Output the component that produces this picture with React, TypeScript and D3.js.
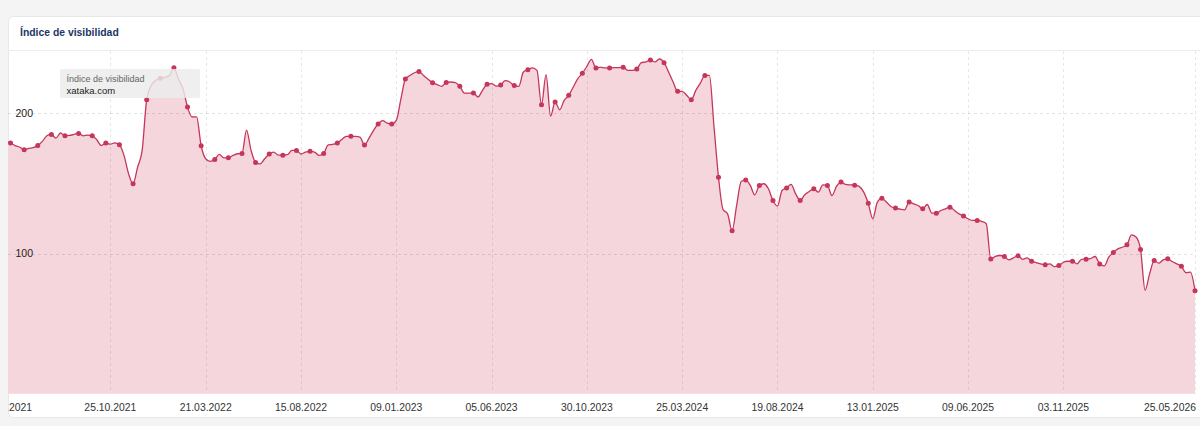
import React from "react";
import * as d3 from "d3";

const START_DATE = "17.05.2021";

const visibility: number[] = [
  180, 178.8, 177, 176, 174, 175, 175.5, 177, 180, 184,
  185, 182.4, 186, 184, 184.3, 185, 185.7, 184, 184.5, 184,
  181.2, 177, 178.8, 178, 179, 177.6, 170, 157, 149.8, 161.7,
  173.6, 209.8, 220, 223.6, 225, 225.7, 227, 232.6, 224.3, 217.6,
  204.5, 197.4, 197.5, 176.9, 167.6, 165.7, 167.1, 170.7, 168.3, 168.3,
  170, 171.2, 171.4, 188, 173.6, 165, 164, 167.6, 171, 172.4,
  170.2, 170.2, 170.5, 173.6, 173.6, 171, 172.4, 172.9, 172.4, 170,
  171.4, 177.6, 177.9, 178.8, 181.4, 183.6, 183.6, 183.6, 183.1, 177.4,
  182.4, 187.9, 192.4, 194.8, 193, 192.4, 195, 210, 224.5, 227,
  229, 229.8, 227, 224.3, 221.9, 220.5, 219.3, 222.1, 222.4, 221.9,
  219.3, 214.5, 214.5, 214.5, 211.7, 216.4, 220.7, 221.2, 219.5, 220.2,
  223.3, 222.4, 219.8, 219.3, 229.5, 231.2, 232.4, 230.7, 206.2, 227.6,
  198.1, 208.1, 202.6, 209.3, 212.9, 218.8, 224.8, 228.6, 233.5, 238.5,
  232.4, 233, 232.4, 232.4, 232.6, 232.6, 232.9, 230.7, 230.7, 231.7,
  236.2, 236.7, 238.1, 236.7, 238.8, 236.2, 229.5, 222.4, 215.7, 215.7,
  212.9, 209.8, 216.4, 221.6, 227.1, 227.1, 191, 154.5, 131.4, 128.3,
  116.2, 134.3, 151.4, 152.5, 148.6, 141.9, 148.5, 149.8, 146.2, 137.8,
  133.8, 145, 146.8, 149.3, 142.6, 137.9, 141.9, 144.3, 146.2, 143.8,
  149, 148.6, 141.4, 147.9, 151, 149.3, 149, 148.8, 147.9, 143.8,
  135.8, 124.8, 136.7, 139.4, 136.7, 133.6, 132.4, 131.7, 131.2, 136.7,
  135.5, 134.3, 131.9, 135, 128.8, 128.8, 130.7, 131.9, 133.1, 130.7,
  128.3, 126.7, 124.8, 123.6, 123.6, 122.9, 121.2, 96.1, 97.9, 98.6,
  97.9, 95.5, 96.9, 98.5, 95.9, 96.9, 94.5, 93.6, 92.6, 92,
  92.6, 90.7, 91.4, 93.8, 94.5, 94.5, 92.6, 95.9, 96, 96.4,
  97.9, 92.5, 91.2, 97.4, 100.8, 103.3, 104.5, 106.2, 113.3, 111.8,
  102.9, 73.8, 85.5, 95, 93.1, 95.5, 96.2, 94.3, 92.6, 90.9,
  86.3, 86.7, 73.5,
];

const tickLabels: string[] = [
  "17.05.2021", "25.10.2021", "21.03.2022", "15.08.2022", "09.01.2023",
  "05.06.2023", "30.10.2023", "25.03.2024", "19.08.2024", "13.01.2025",
  "09.06.2025", "03.11.2025", "25.05.2026",
];

const yTicks: number[] = [100, 200];

const TITLE = "Índice de visibilidad";
const LEGEND_METRIC = "Índice de visibilidad";
const LEGEND_DOMAIN = "xataka.com";

const W = 1200;
const H = 426;
const FONT = "'Liberation Sans', Arial, Helvetica, sans-serif";
const LINE_COLOR = "#c5365a";
const FILL_COLOR = "#f4d6dc";

export default function App() {
  const parse = d3.utcParse("%d.%m.%Y");
  const start = parse(START_DATE) as Date;
  const dates = visibility.map((_, i) => d3.utcDay.offset(start, 7 * i));
  const tickDates = tickLabels.map((t) => parse(t) as Date);

  const x = d3
    .scaleUtc()
    .domain([dates[0], dates[dates.length - 1]])
    .range([6, 1195]);
  const y = d3.scaleLinear().domain([0, 244.5]).range([393.7, 51]);

  const area = d3
    .area<number>()
    .x((_, i) => x(dates[i]))
    .y0(y(0))
    .y1((d) => y(d))
    .curve(d3.curveMonotoneX);
  const line = d3
    .line<number>()
    .x((_, i) => x(dates[i]))
    .y((d) => y(d))
    .curve(d3.curveMonotoneX);

  const plotTop = 51;
  const plotBottom = y(0);

  return (
    <svg
      width={W}
      height={H}
      style={{ position: "absolute", left: 0, top: 0, display: "block" }}
      fontFamily={FONT}
    >
      <defs>
        <clipPath id="cardClip">
          <rect x={8} y={16} width={1200} height={402} rx={5} />
        </clipPath>
        <clipPath id="plotClip">
          <rect x={8} y={plotTop} width={1192} height={plotBottom - plotTop + 1} />
        </clipPath>
      </defs>
      <rect x={0} y={0} width={W} height={H} fill="#f4f4f4" />
      <rect
        x={8.5}
        y={16.5}
        width={1200}
        height={401}
        rx={5}
        fill="#ffffff"
        stroke="#e8e8e8"
      />
      <text x={20} y={36} fontSize={10.4} fontWeight="bold" fill="#1b3766">
        {TITLE}
      </text>
      <line x1={8} x2={W} y1={50.5} y2={50.5} stroke="#ececec" />

      <g clipPath="url(#plotClip)">
        <path d={area(visibility) || ""} fill={FILL_COLOR} />
        {yTicks.map((t) => (
          <line
            key={"h" + t}
            x1={8}
            x2={1195}
            y1={Math.round(y(t)) + 0.5}
            y2={Math.round(y(t)) + 0.5}
            stroke="rgba(0,0,0,0.11)"
            strokeDasharray="3,3"
          />
        ))}
        {tickDates.map((d, i) => (
          <line
            key={"v" + i}
            x1={Math.round(x(d)) + 0.5}
            x2={Math.round(x(d)) + 0.5}
            y1={plotTop}
            y2={plotBottom}
            stroke="rgba(0,0,0,0.09)"
            strokeDasharray="3,3"
          />
        ))}
        <path d={line(visibility) || ""} fill="none" stroke={LINE_COLOR} strokeWidth={1.3} />
        {visibility.map((v, i) =>
          i % 3 === 1 ? (
            <circle key={"c" + i} cx={x(dates[i])} cy={y(v)} r={2.5} fill={LINE_COLOR} />
          ) : null
        )}
      </g>

      {yTicks.map((t) => (
        <text
          key={"yl" + t}
          x={15.5}
          y={y(t)}
          dy="0.35em"
          fontSize={10.5}
          fill="#222"
        >
          {t}
        </text>
      ))}

      <g clipPath="url(#cardClip)">
        {tickDates.map((d, i) => {
          const last = i === tickDates.length - 1;
          return (
            <text
              key={"xl" + i}
              x={last ? 1196 : x(d)}
              y={407}
              dy="0.35em"
              textAnchor={last ? "end" : "middle"}
              fontSize={10.4}
              fill="#333"
            >
              {tickLabels[i]}
            </text>
          );
        })}
      </g>

      <rect x={60} y={69} width={140} height={29} rx={2} fill="rgba(236,236,236,0.82)" />
      <text x={66.5} y={81.5} fontSize={9} fill="#666">
        {LEGEND_METRIC}
      </text>
      <text x={66.5} y={94} fontSize={9.5} fill="#222">
        {LEGEND_DOMAIN}
      </text>
    </svg>
  );
}
